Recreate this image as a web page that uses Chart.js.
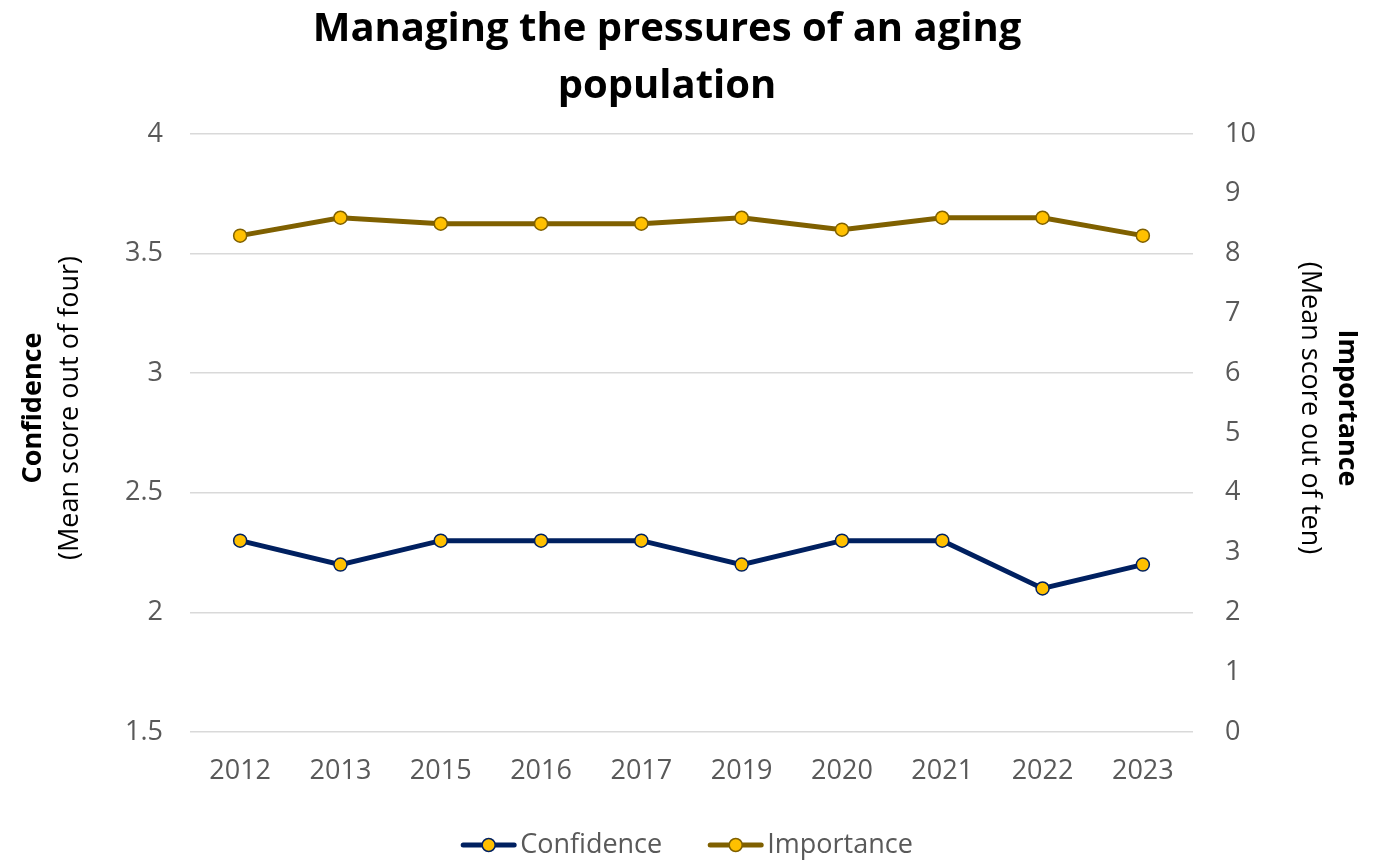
<!DOCTYPE html>
<html>
<head>
<meta charset="utf-8">
<script src="https://cdn.jsdelivr.net/npm/chart.js@4.4.1/dist/chart.umd.min.js"></script>
<style>
    html, body { margin: 0; padding: 0; background: #fff; }
    #wrap { width: 1380px; height: 860px; }
</style>
</head>
<body>
<div id="wrap"><canvas id="agingChart" width="1380" height="860"></canvas></div>
<script>
// Valores
const years = ['2012', '2013', '2015', '2016', '2017', '2019', '2020', '2021', '2022', '2023'];
const confidence = [2.3, 2.2, 2.3, 2.3, 2.3, 2.2, 2.3, 2.3, 2.1, 2.2];
const importance = [8.3, 8.6, 8.5, 8.5, 8.5, 8.6, 8.4, 8.6, 8.6, 8.3];
const titleLines = ['Managing the pressures of an aging', 'population'];
const leftTitle = ['Confidence', '(Mean score out of four)'];
const rightTitle = ['Importance', '(Mean score out of ten)'];

const FONT = "'Open Sans', 'DejaVu Sans', sans-serif";
const NAVY = '#002060';
const OLIVE = '#7F6000';
const GOLD = '#FFC000';
const TICK = '#595959';

// Título, títulos dos eixos e legenda desenhados à mão
const decorations = {
    id: 'decorations',
    afterDraw(chart) {
        const ctx = chart.ctx;
        const area = chart.chartArea;
        const midY = (area.top + area.bottom) / 2 - 25;

        ctx.save();
        ctx.fillStyle = '#000';
        ctx.textAlign = 'center';
        ctx.textBaseline = 'middle';
        ctx.font = 'bold 40px ' + FONT;
        ctx.fillText(titleLines[0], 667, 30);
        ctx.fillText(titleLines[1], 667, 87);

        // eixo esquerdo
        ctx.save();
        ctx.translate(33, midY);
        ctx.rotate(-Math.PI / 2);
        ctx.font = 'bold 27px ' + FONT;
        ctx.fillText(leftTitle[0], 0, 0);
        ctx.restore();
        ctx.save();
        ctx.translate(70, midY);
        ctx.rotate(-Math.PI / 2);
        ctx.font = '27px ' + FONT;
        ctx.fillText(leftTitle[1], 0, 0);
        ctx.restore();

        // eixo direito
        ctx.save();
        ctx.translate(1347, midY);
        ctx.rotate(Math.PI / 2);
        ctx.font = 'bold 27px ' + FONT;
        ctx.fillText(rightTitle[0], 0, 0);
        ctx.restore();
        ctx.save();
        ctx.translate(1310, midY);
        ctx.rotate(Math.PI / 2);
        ctx.font = '27px ' + FONT;
        ctx.fillText(rightTitle[1], 0, 0);
        ctx.restore();

        // legenda
        ctx.font = '27px ' + FONT;
        const lineLen = 55;
        const gap = 46;
        const items = chart.data.datasets.map(ds => ({
            label: ds.label,
            color: ds.borderColor,
            width: lineLen + 4 + ctx.measureText(ds.label).width
        }));
        const total = items.reduce((s, it) => s + it.width, 0) + gap * (items.length - 1);
        let x = 687 - total / 2;
        const y = 845;
        items.forEach(it => {
            ctx.strokeStyle = it.color;
            ctx.lineWidth = 5;
            ctx.lineCap = 'round';
            ctx.beginPath();
            ctx.moveTo(x + 2, y);
            ctx.lineTo(x + lineLen - 2, y);
            ctx.stroke();
            ctx.beginPath();
            ctx.arc(x + lineLen / 2, y, 6.5, 0, Math.PI * 2);
            ctx.fillStyle = GOLD;
            ctx.fill();
            ctx.lineWidth = 1.5;
            ctx.stroke();
            ctx.fillStyle = TICK;
            ctx.textAlign = 'left';
            ctx.fillText(it.label, x + lineLen + 4, y);
            x += it.width + gap;
        });
        ctx.restore();
    }
};

const ctx = document.getElementById('agingChart').getContext('2d');
const agingChart = new Chart(ctx, {
    type: 'line',
    data: {
        labels: years,
        datasets: [
            {
                label: 'Confidence',
                data: confidence,
                borderColor: NAVY,
                backgroundColor: GOLD,
                pointBackgroundColor: GOLD,
                pointBorderColor: NAVY,
                borderWidth: 5,
                pointRadius: 6.5,
                pointBorderWidth: 1.5,
                pointHoverRadius: 6.5,
                tension: 0,
                yAxisID: 'y'
            },
            {
                label: 'Importance',
                data: importance,
                borderColor: OLIVE,
                backgroundColor: GOLD,
                pointBackgroundColor: GOLD,
                pointBorderColor: OLIVE,
                borderWidth: 5,
                pointRadius: 6.5,
                pointBorderWidth: 1.5,
                pointHoverRadius: 6.5,
                tension: 0,
                yAxisID: 'y1'
            }
        ]
    },
    options: {
        responsive: false,
        animation: false,
        layout: {
            padding: { top: 134, bottom: 60, left: 0, right: 0 }
        },
        plugins: {
            legend: { display: false },
            title: { display: false },
            tooltip: { enabled: false }
        },
        scales: {
            x: {
                offset: true,
                grid: { display: false, drawTicks: false, offset: true },
                border: { display: false },
                ticks: {
                    color: TICK,
                    font: { family: FONT, size: 27 },
                    padding: 23,
                    maxRotation: 0
                },
                afterFit: scale => { scale.height = 68; }
            },
            y: {
                position: 'left',
                min: 1.5,
                max: 4,
                grid: { color: '#D9D9D9', lineWidth: 1.5, drawTicks: false },
                border: { display: false },
                ticks: {
                    stepSize: 0.5,
                    color: TICK,
                    font: { family: FONT, size: 27 },
                    padding: 27,
                    callback: value => String(value)
                },
                afterFit: scale => { scale.width = 190; }
            },
            y1: {
                position: 'right',
                min: 0,
                max: 10,
                grid: { drawOnChartArea: false, drawTicks: false },
                border: { display: false },
                ticks: {
                    stepSize: 1,
                    color: TICK,
                    font: { family: FONT, size: 27 },
                    padding: 32
                },
                afterFit: scale => { scale.width = 187; }
            }
        }
    },
    plugins: [decorations]
});
</script>
</body>
</html>
